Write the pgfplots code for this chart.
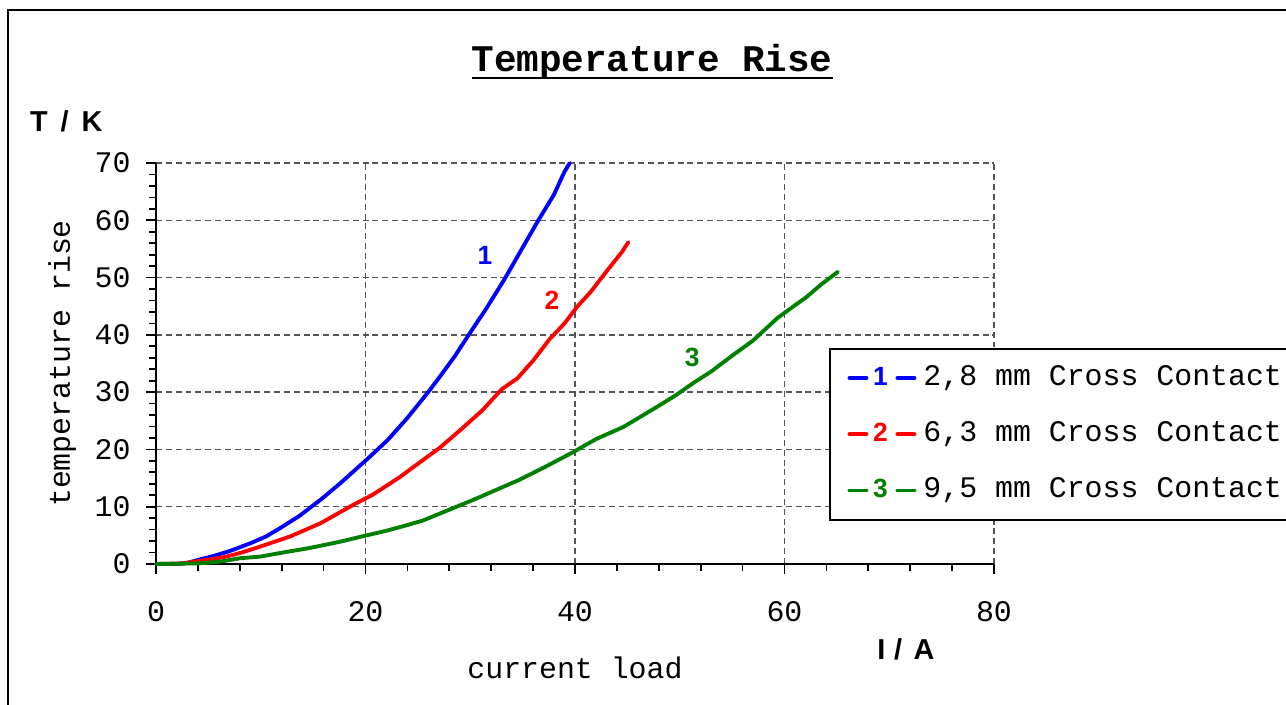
\documentclass[border=0pt]{standalone}
\usepackage{fontspec}
\setmainfont{Liberation Mono}
\setmonofont{Liberation Mono}
\setsansfont{Liberation Sans}
\usepackage{pgfplots}
\pgfplotsset{compat=1.18}
\definecolor{cblue}{RGB}{0,0,255}
\definecolor{cred}{RGB}{255,0,0}
\definecolor{cgreen}{RGB}{0,128,0}
\definecolor{gridgray}{RGB}{85,85,85}
\newcommand{\lbl}{\fontsize{8.5}{10}\selectfont\ttfamily}
\newcommand{\bsf}{\fontsize{7.5}{9}\selectfont\sffamily\bfseries}
\newcommand{\bsfl}{\fontsize{8.2}{10}\selectfont\sffamily\bfseries}
\begin{document}
\begin{tikzpicture}
\useasboundingbox (0,0) rectangle (12.86cm,7.05cm);
\draw[line width=0.6pt] (0.08cm,-0.5cm) -- (0.08cm,6.95cm) -- (13.5cm,6.95cm);
\begin{axis}[
 at={(1.56cm,1.41cm)}, anchor=south west,
 scale only axis, width=8.38cm, height=4.01cm,
 xmin=0, xmax=80, ymin=0, ymax=70,
 axis lines=left, axis line style={-, line width=0.5pt, black},
 xtick={0,20,40,60,80}, ytick={0,10,...,70},
 minor x tick num=4, minor y tick num=4,
 tick align=outside, major tick length=0.1cm, minor tick length=0.07cm,
 every tick/.style={black, line width=0.5pt},
 grid=major, major grid style={gridgray, line width=0.4pt, dash pattern=on 1.7pt off 1.1pt},
 tick label style={font=\lbl}, /pgf/number format/assume math mode=true,
 xticklabel style={yshift=-0.15cm},
 yticklabel style={xshift=-0.03cm},
 xlabel={current load}, ylabel={temperature rise},
 label style={font=\lbl},
 xlabel style={at={(rel axis cs:0.5,-0.259)}, anchor=center},
 ylabel style={at={(rel axis cs:-0.112,0.5)}, anchor=center},
 title={Temperature Rise},
 title style={font=\fontsize{10.7}{12}\selectfont\ttfamily\bfseries, at={(rel axis cs:0.592,1.199)}, anchor=center, yshift=0pt},
 clip=false,
 legend cell align=left,
 legend style={at={(rel axis cs:0.803,0.539)}, anchor=north west, draw=black, line width=0.6pt, fill=white,
   inner xsep=5pt, inner ysep=2.6pt, row sep=4.6pt, font=\lbl,
   nodes={inner xsep=2pt, inner ysep=2pt, text height=5.8pt, text depth=1.6pt}},
 every axis plot/.append style={line width=1.1pt, line cap=round, line join=round, no markers},
]
\addplot[cblue, legend image code/.code={
  \draw[cblue, line width=1.1pt] (0cm,0cm) -- (0.17cm,0cm);
  \node[text=cblue, font=\bsf, inner sep=0pt, anchor=center] at (0.31cm,0cm) {1};
  \draw[cblue, line width=1.1pt] (0.48cm,0cm) -- (0.65cm,0cm);}]
 coordinates {(0,0) (2,0) (3,0.2) (4.2,0.8) (5.5,1.4) (7.1,2.3) (9,3.6) (10.5,4.8) (11.8,6.2) (13.7,8.4) (15.7,11.2) (17.6,14.1) (20.1,18.2) (22.1,21.6) (24,25.5) (25.9,29.8) (27.1,32.7) (28.5,36.2) (30,40.4) (31.5,44.5) (33.2,49.5) (34.8,54.6) (36.5,60) (38,64.5) (39,68.5) (39.5,70)};
\addlegendentry{2,8 mm Cross Contact\hspace*{1cm}}
\addplot[cred, legend image code/.code={
  \draw[cred, line width=1.1pt] (0cm,0cm) -- (0.17cm,0cm);
  \node[text=cred, font=\bsf, inner sep=0pt, anchor=center] at (0.31cm,0cm) {2};
  \draw[cred, line width=1.1pt] (0.48cm,0cm) -- (0.65cm,0cm);}]
 coordinates {(0,0) (2.5,0.1) (4.8,0.7) (6.5,1.2) (8,1.9) (9.9,3.0) (12.8,4.8) (15.7,7.1) (18.8,10.3) (20.7,12.1) (23.3,15.2) (25,17.5) (27.1,20.3) (29,23.3) (31.2,26.9) (33,30.5) (34.5,32.4) (36,35.5) (37.6,39.3) (39,42) (40.2,44.9) (41.5,47.5) (43.1,51.3) (44.5,54.5) (45.1,56.2)};
\addlegendentry{6,3 mm Cross Contact\hspace*{1cm}}
\addplot[cgreen, legend image code/.code={
  \draw[cgreen, line width=1.1pt] (0cm,0cm) -- (0.17cm,0cm);
  \node[text=cgreen, font=\bsf, inner sep=0pt, anchor=center] at (0.31cm,0cm) {3};
  \draw[cgreen, line width=1.1pt] (0.48cm,0cm) -- (0.65cm,0cm);}]
 coordinates {(0,0) (4,0.1) (6.1,0.4) (8,1.0) (10,1.3) (11.8,1.9) (14.7,2.8) (17.6,3.9) (20.1,5.0) (22,5.8) (24,6.8) (25.5,7.6) (27.1,8.8) (30.3,11.2) (34.7,14.7) (37,16.8) (39.8,19.5) (42,21.8) (44.6,23.9) (47.8,27.4) (49.5,29.3) (51.3,31.6) (53,33.6) (55.1,36.5) (57,39) (59.3,42.9) (60.5,44.5) (62.1,46.6) (63.5,48.8) (65.1,51.0)};
\addlegendentry{9,5 mm Cross Contact\hspace*{1cm}}
\draw[line width=0.6pt] (rel axis cs:0.377,1.212) -- (rel axis cs:0.808,1.212);
\node[font=\bsf, text=cblue] at (axis cs:31.4,53.9) {1};
\node[font=\bsf, text=cred] at (axis cs:37.8,46.1) {2};
\node[font=\bsf, text=cgreen] at (axis cs:51.2,36.1) {3};
\node[font=\bsfl] at (rel axis cs:-0.107,1.103) {T\hspace{0.45em}/\hspace{0.45em}K};
\node[font=\bsfl] at (rel axis cs:0.895,-0.214) {I\hspace{0.3em}/\hspace{0.4em}A};
\end{axis}
\end{tikzpicture}
\end{document}
